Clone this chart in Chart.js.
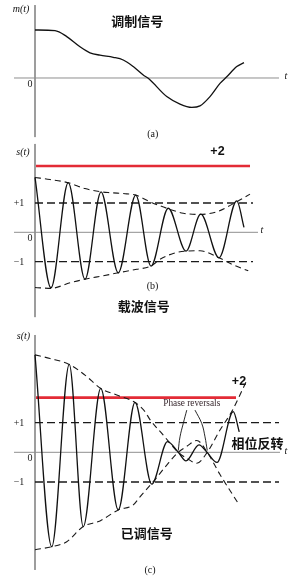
<!DOCTYPE html>
<html>
<head>
<meta charset="utf-8">
<script src="https://cdn.jsdelivr.net/npm/chart.js@4.4.0/dist/chart.umd.min.js"></script>
<style>
  html, body { margin: 0; padding: 0; background: #fff; }
  #wrap { position: relative; width: 300px; height: 579px; }
  canvas { position: absolute; left: 0; }
</style>
</head>
<body>
<div id="wrap">
  <canvas id="panelA" width="300" height="140" style="top:0"></canvas>
  <canvas id="panelB" width="300" height="180" style="top:140px"></canvas>
  <canvas id="panelC" width="300" height="259" style="top:320px"></canvas>
</div>
<script>
// (a) message signal m(t)
const msgT = [0, 0.8, 1.27, 1.8, 2.2, 2.6, 3.13, 3.53, 3.93, 4.33, 4.53, 5.27, 5.8, 6.27, 6.6, 7.0, 7.4, 7.67, 8.07, 8.36];
const msgV = [1.6, 1.58, 1.38, 1.04, 0.84, 0.76, 0.69, 0.6, 0.38, 0.1, -0.01, -0.62, -0.87, -0.98, -0.93, -0.62, -0.18, 0.04, 0.38, 0.51];

// (b) carrier with envelope
const carrierT = [0, 0.64, 1.33, 2.0, 2.64, 3.33, 4.03, 4.64, 5.33, 6.04, 6.63, 7.36, 8.07, 8.36];
const carrierV = [1.87, -1.89, 1.69, -1.6, 1.38, -1.38, 1.27, -1.15, 0.82, -0.64, 0.62, -0.87, 1.07, 0.17];
const envUpT = [0, 0.6, 1.33, 2.0, 2.64, 3.0, 3.67, 4.03, 4.6, 5.27, 5.93, 6.6, 7.27, 8.07, 8.6];
const envUpV = [1.87, 1.8, 1.69, 1.49, 1.38, 1.35, 1.31, 1.27, 1.04, 0.82, 0.65, 0.61, 0.7, 1.04, 1.3];
const envLoT = [0, 0.64, 1.4, 2.0, 2.67, 3.33, 4.07, 4.64, 5.0, 5.53, 6.04, 6.6, 7.36, 7.93, 8.53];
const envLoV = [-1.88, -1.91, -1.72, -1.6, -1.49, -1.38, -1.26, -1.15, -0.92, -0.72, -0.64, -0.63, -0.87, -1.11, -1.31];

// (c) modulated signal with +m / -m envelopes
const modT = [0, 0.67, 1.37, 1.93, 2.63, 3.33, 4.0, 4.67, 5.3, 5.73, 6.04, 6.56, 6.88, 7.28, 7.93, 8.17];
const modV = [3.28, -3.18, 2.96, -2.5, 2.15, -1.94, 1.68, -1.07, 0.36, 0, -0.29, 0.25, 0, -0.34, 1.37, 0.69];
const envMT = [0, 0.6, 1.37, 2.0, 2.63, 3.27, 4.0, 4.4, 4.6, 5.13, 5.73, 6.07, 6.47, 6.89, 7.4, 7.87, 8.47];
const envMV = [3.28, 3.16, 2.96, 2.6, 2.15, 1.93, 1.68, 1.37, 1.1, 0.58, 0, -0.2, -0.37, 0, 0.75, 1.37, 2.42];
const envNT = [0, 0.67, 1.27, 1.93, 2.6, 3.33, 3.93, 4.2, 4.73, 5.27, 5.73, 6.07, 6.47, 6.89, 7.4, 8.13];
const envNV = [-3.28, -3.18, -3.01, -2.5, -2.31, -1.94, -1.77, -1.5, -0.99, -0.43, 0, 0.2, 0.4, 0, -0.75, -1.72];
const arrowLT = [6.07, 5.93, 5.8, 5.73];
const arrowLV = [1.42, 0.97, 0.52, 0.06];
const arrowRT = [6.4, 6.67, 6.8, 6.89];
const arrowRV = [1.42, 0.97, 0.52, 0.06];

// reference levels
const levelB = [2.26];   // red "+2" line in (b)
const levelC = [1.84];   // red "+2" line in (c)
const redSpanB = [0.04, 8.6];
const redSpanC = [0.04, 8.04];
const unitLevels = [1, -1];
const tickVals = [1, 0, -1];
const tickText = ['+1', '0', '\u22121'];

const SERIF = '"Liberation Serif", "DejaVu Serif", serif';
const CJK = '"Noto Sans CJK SC", sans-serif';
const SANS = '"Liberation Sans", Arial, sans-serif';

function pts(xs, ys) {
    return xs.map((x, i) => ({x: x, y: ys[i]}));
}

function curve(xs, ys, style) {
    return Object.assign({
        data: pts(xs, ys),
        showLine: true,
        pointRadius: 0,
        fill: false,
        borderColor: '#111',
        borderWidth: 1.2,
        cubicInterpolationMode: 'monotone'
    }, style);
}

function straight(xs, ys, style) {
    return curve(xs, ys, Object.assign({cubicInterpolationMode: 'default', tension: 0}, style));
}

function axes(hEnd, vTop, vBottom) {
    const s = {borderColor: '#8f8f8f', borderWidth: 1, order: 10};
    return [
        straight([-0.84, hEnd], [0, 0], s),
        straight([0, 0], [vTop, vBottom], s)
    ];
}

// labels and tick text drawn at data positions
const textPlugin = {
    id: 'textLabels',
    afterDatasetsDraw(chart, args, opts) {
        const ctx = chart.ctx;
        const xs = chart.scales.x, ys = chart.scales.y;
        ctx.save();
        ctx.textBaseline = 'middle';
        (opts.items || []).forEach(it => {
            ctx.font = it.font;
            ctx.fillStyle = it.color || '#111';
            ctx.textAlign = 'center';
            ctx.fillText(it.text, xs.getPixelForValue(it.t), ys.getPixelForValue(it.v));
        });
        if (opts.ticks) {
            const x0 = xs.getPixelForValue(0);
            ctx.font = '10px ' + SERIF;
            ctx.fillStyle = '#222';
            opts.ticks.values.forEach((v, i) => {
                const yp = ys.getPixelForValue(v);
                if (v === 0) ctx.fillText(opts.ticks.labels[i], x0 - 5, yp + 6.5);
                else ctx.fillText(opts.ticks.labels[i], x0 - 16, yp + 0.5);
            });
        }
        ctx.restore();
    }
};

function makeChart(id, yMin, yMax, datasets, items, ticks) {
    return new Chart(document.getElementById(id), {
        type: 'scatter',
        data: {datasets: datasets},
        options: {
            responsive: false,
            animation: false,
            devicePixelRatio: 1,
            layout: {padding: 0},
            scales: {
                x: {type: 'linear', min: -1.4, max: 10.6, display: false},
                y: {type: 'linear', min: yMin, max: yMax, display: false}
            },
            plugins: {
                legend: {display: false},
                tooltip: {enabled: false},
                textLabels: {items: items, ticks: ticks}
            }
        },
        plugins: [textPlugin]
    });
}

const unitDash = {borderDash: [8, 4], borderWidth: 1.4, borderColor: '#1a1a1a'};
const envDash = {borderDash: [6, 4], borderWidth: 1.1, borderColor: '#1a1a1a'};
const redStyle = {borderColor: '#e32b36', borderWidth: 2.6};

// (a)
makeChart('panelA', -2.067, 2.6, [
    curve(msgT, msgV, {borderWidth: 1.3}),
    ...axes(9.76, 2.43, -1.97)
], [
    {text: 'm(t)', t: -0.56, v: 2.3, font: 'italic 10px ' + SERIF},
    {text: '调制信号', t: 4.09, v: 1.91, font: 'bold 13px ' + CJK},
    {text: 't', t: 10.04, v: 0.04, font: 'italic 10px ' + SERIF},
    {text: '(a)', t: 4.71, v: -1.89, font: '10px ' + SERIF}
], {values: [0], labels: ['0']});

// (b)
makeChart('panelB', -2.988, 3.145, [
    curve(carrierT, carrierV, {borderWidth: 1.3}),
    curve(envUpT, envUpV, envDash),
    curve(envLoT, envLoV, envDash),
    straight([0, 8.72], [unitLevels[0], unitLevels[0]], unitDash),
    straight([0, 8.72], [unitLevels[1], unitLevels[1]], unitDash),
    straight(redSpanB, [levelB[0], levelB[0]], redStyle),
    ...axes(8.92, 3.01, -2.89)
], [
    {text: 's(t)', t: -0.48, v: 2.73, font: 'italic 10px ' + SERIF},
    {text: '+2', t: 7.3, v: 2.74, font: 'bold 12.5px ' + SANS},
    {text: 't', t: 9.08, v: 0.05, font: 'italic 10px ' + SERIF},
    {text: '(b)', t: 4.7, v: -1.85, font: '10px ' + SERIF},
    {text: '载波信号', t: 4.35, v: -2.51, font: 'bold 13px ' + CJK}
], {values: tickVals, labels: tickText});

// (c)
makeChart('panelC', -4.266, 4.455, [
    curve(modT, modV, {borderWidth: 1.3}),
    curve(envMT, envMV, envDash),
    curve(envNT, envNV, envDash),
    curve(arrowLT, arrowLV, {borderWidth: 0.9, cubicInterpolationMode: 'default', tension: 0.4}),
    curve(arrowRT, arrowRV, {borderWidth: 0.9, cubicInterpolationMode: 'default', tension: 0.4}),
    straight([0, 9.76], [unitLevels[0], unitLevels[0]], unitDash),
    straight([0, 9.76], [unitLevels[1], unitLevels[1]], unitDash),
    straight(redSpanC, [levelC[0], levelC[0]], redStyle),
    ...axes(9.8, 3.95, -3.96)
], [
    {text: 's(t)', t: -0.46, v: 3.89, font: 'italic 10px ' + SERIF},
    {text: '+2', t: 8.16, v: 2.37, font: 'bold 12.5px ' + SANS},
    {text: 'Phase reversals', t: 6.27, v: 1.63, font: '9.3px ' + SERIF, color: '#3a2a30'},
    {text: 't', t: 10.04, v: 0.04, font: 'italic 10px ' + SERIF},
    {text: '相位反转', t: 8.9, v: 0.32, font: 'bold 13px ' + CJK},
    {text: '已调信号', t: 4.47, v: -2.73, font: 'bold 13px ' + CJK},
    {text: '(c)', t: 4.6, v: -3.99, font: '10px ' + SERIF}
], {values: tickVals, labels: tickText});
</script>
</body>
</html>
